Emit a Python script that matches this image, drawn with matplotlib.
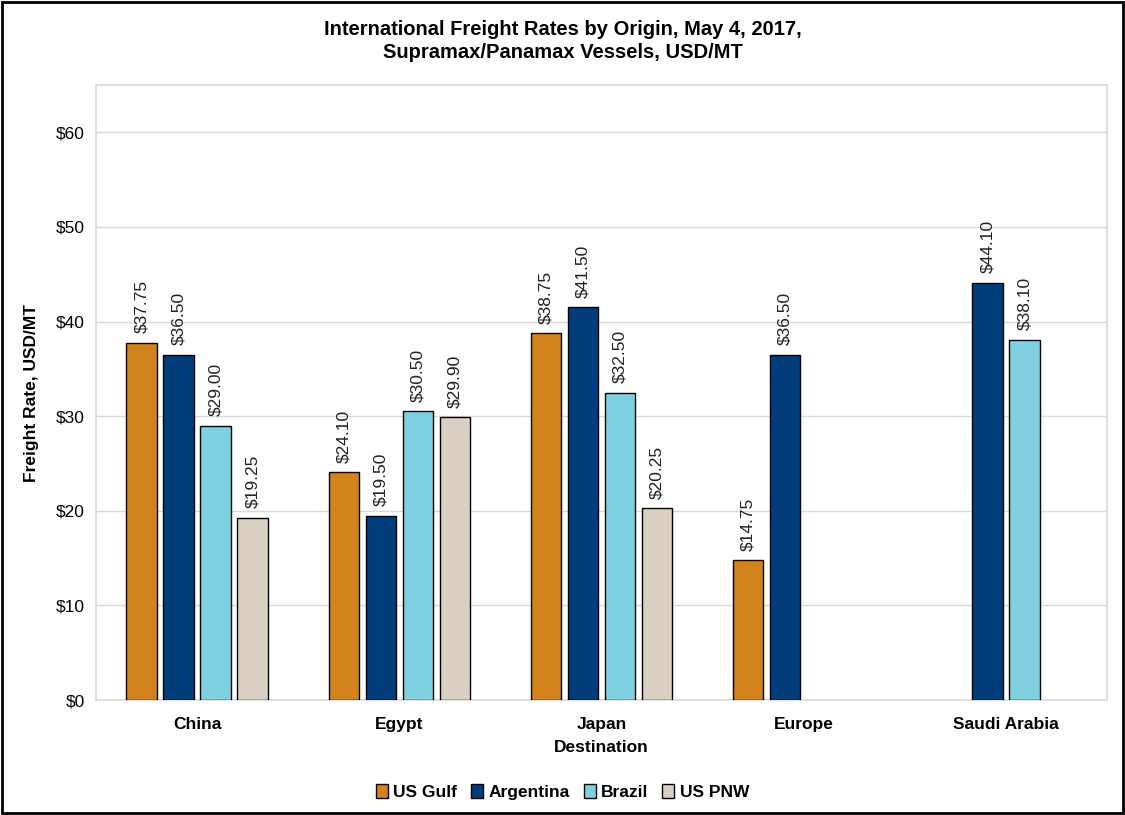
import numpy as np
import matplotlib.pyplot as plt
from matplotlib.patches import Rectangle

plt.rcParams['font.family'] = ['Liberation Sans', 'DejaVu Sans']

destinations = ['China', 'Egypt', 'Japan', 'Europe', 'Saudi Arabia']
origins = ['US Gulf', 'Argentina', 'Brazil', 'US PNW']
us_gulf = [37.75, 24.10, 38.75, 14.75, np.nan]
argentina = [36.50, 19.50, 41.50, 36.50, 44.10]
brazil = [29.00, 30.50, 32.50, np.nan, 38.10]
us_pnw = [19.25, 29.90, 20.25, np.nan, np.nan]
series = [us_gulf, argentina, brazil, us_pnw]
colors = ['#D3831C', '#003D7A', '#7FD1E1', '#DAD0C2']

fig = plt.figure(figsize=(11.25, 8.15), dpi=100)
ax = fig.add_axes([96/1125, 115/815, 1011/1125, 615/815])

x = np.arange(len(destinations))
step = 0.183
width = 0.15
for i, (vals, col) in enumerate(zip(series, colors)):
    pos = x + (i - 1.5) * step
    for xp, v in zip(pos, vals):
        if np.isnan(v):
            continue
        ax.bar(xp, v, width=width, color=col, edgecolor='black', linewidth=1.0, zorder=3)
        ax.text(xp, v + 1.0, f'${v:.2f}', rotation=90, ha='center', va='bottom',
                fontsize=12.5, color='#222222', zorder=4)

ax.set_xlim(-0.5, 4.5)
ax.set_ylim(0, 65)
ax.set_yticks(np.arange(0, 61, 10))
ax.set_yticklabels([f'${v}' for v in range(0, 61, 10)], fontsize=12.5)
ax.set_xticks(x)
ax.set_xticklabels(destinations, fontsize=12.5, fontweight='bold')
ax.tick_params(axis='both', length=0, pad=8)
ax.tick_params(axis='x', pad=12)
ax.grid(axis='y', color='#D9D9D9', linewidth=1.0, zorder=0)
for s in ax.spines.values():
    s.set_color('#D9D9D9')
    s.set_linewidth(1.2)

ax.set_ylabel('Freight Rate, USD/MT', fontsize=12.5, fontweight='bold', labelpad=12)
ax.set_xlabel('Destination', fontsize=12.5, fontweight='bold', labelpad=6)

fig.suptitle('International Freight Rates by Origin, May 4, 2017,\nSupramax/Panamax Vessels, USD/MT',
             fontsize=14.5, fontweight='bold', y=0.975, linespacing=1.25)

handles = [Rectangle((0, 0), 1, 1, facecolor=c, edgecolor='black', linewidth=1.0) for c in colors]
fig.legend(handles, origins, loc='center', bbox_to_anchor=(0.5, (815 - 792) / 815),
           ncol=4, frameon=False, handlelength=0.7, handleheight=0.9,
           handletextpad=0.3, columnspacing=0.8, prop={'weight': 'bold', 'size': 12.5})

fig.patches.append(Rectangle((0.002, 0.002), 0.996, 0.996, transform=fig.transFigure,
                             fill=False, edgecolor='black', linewidth=2))

fig.savefig('out.png', dpi=100)
